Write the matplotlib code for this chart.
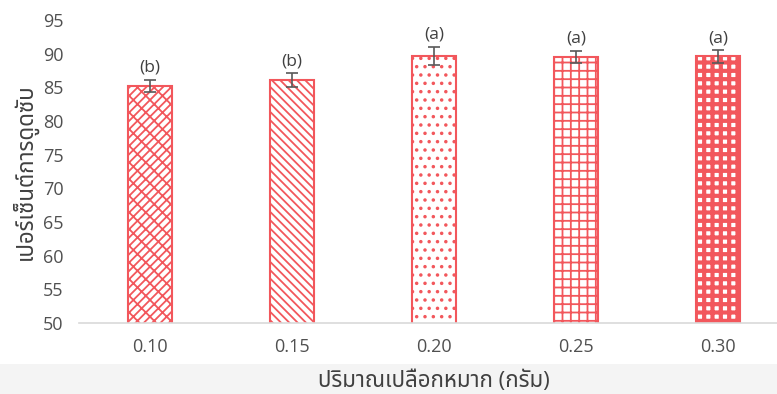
import matplotlib.pyplot as plt
from matplotlib.patches import Rectangle

# Daten
amounts = ['0.10', '0.15', '0.20', '0.25', '0.30']
percent = [85.2, 86.1, 89.7, 89.5, 89.6]
errors = [0.9, 1.0, 1.3, 0.9, 0.9]
letters = ['(b)', '(b)', '(a)', '(a)', '(a)']
hatches = ['////\\\\', '\\\\\\\\', '..', '++', '++']

red = '#F2575C'
plt.rcParams['font.family'] = ['Open Sans', 'Noto Sans Thai', 'DejaVu Sans']
plt.rcParams['hatch.linewidth'] = 1.3

fig = plt.figure(figsize=(7.77, 3.94), dpi=100)
# hellgrauer Streifen unten (wie im Original)
fig.patches.append(Rectangle((0, 0), 1, 0.075, transform=fig.transFigure,
                             facecolor='#f4f4f4', edgecolor='none', zorder=-1))
ax = fig.add_axes([0.1017, 0.180, 0.9137, 0.769])

x = range(len(amounts))
bars = ax.bar(x, percent, width=0.31, color='white', edgecolor=red,
              linewidth=1.5, yerr=errors, capsize=4,
              error_kw=dict(ecolor='#595959', elinewidth=1.2, capthick=1.2))
for b, h in zip(bars, hatches):
    b.set_hatch(h)
if hasattr(bars[4], 'set_hatch_linewidth'):
    bars[4].set_hatch_linewidth(3.0)  # Schachbrett-Optik

for i, (v, e, t) in enumerate(zip(percent, errors, letters)):
    ax.annotate(t, (i, v + e), xytext=(0, 3), textcoords='offset points',
                ha='center', va='bottom', fontsize=12.5, color='#404040')

ax.set_xlim(-0.5, 4.5)
ax.set_ylim(50, 95)
ax.set_yticks(range(50, 96, 5))
ax.set_xticks(list(x))
ax.set_xticklabels(amounts)
ax.tick_params(length=0, labelsize=13, colors='#505050', pad=11)
for s in ['top', 'right', 'left']:
    ax.spines[s].set_visible(False)
ax.spines['bottom'].set_color('#d9d9d9')
ax.spines['bottom'].set_linewidth(1.2)

ax.set_xlabel('ปริมาณเปลือกหมาก (กรัม)', fontsize=16, color='#404040', labelpad=10)
ax.set_ylabel('เปอร์เซ็นต์การดูดซับ', fontsize=16, fontweight='bold',
              color='#404040', labelpad=4)

fig.savefig('out.png', dpi=100)
